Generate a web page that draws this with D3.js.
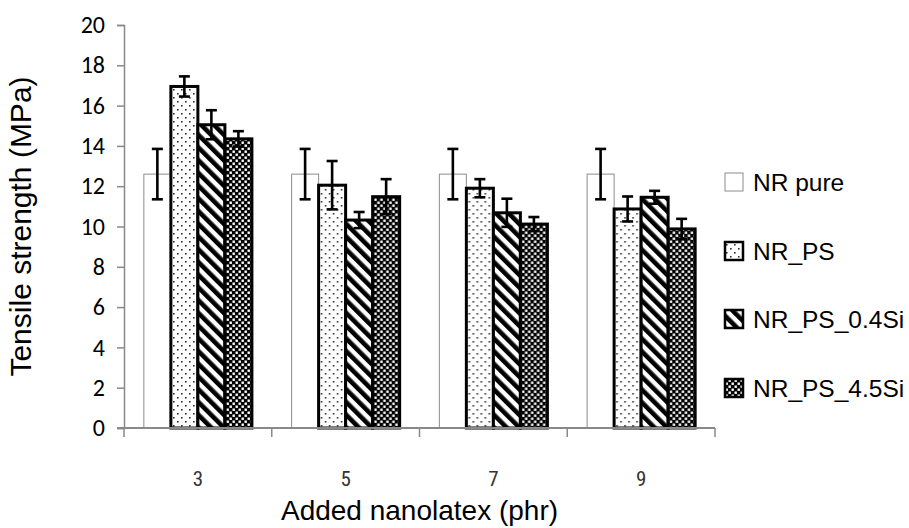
<!DOCTYPE html>
<html>
<head>
<meta charset="utf-8">
<script src="https://cdn.jsdelivr.net/npm/d3@7"></script>
<style>
  html, body { margin: 0; padding: 0; background: #fff; }
  svg { display: block; }
</style>
</head>
<body>
<svg id="chart" width="909" height="528"></svg>
<script>
// Tensile strength of NR composites at different nanolatex loadings
const categories = ["3", "5", "7", "9"];
const seriesNames = ["NR pure", "NR_PS", "NR_PS_0.4Si", "NR_PS_4.5Si"];
const nrPure      = [12.6, 12.6, 12.6, 12.6];
const nrPureErr   = [1.25, 1.25, 1.25, 1.25];
const nrPs        = [16.95, 12.05, 11.9, 10.87];
const nrPsErr     = [0.5, 1.2, 0.45, 0.62];
const nrPs04      = [15.05, 10.32, 10.68, 11.45];
const nrPs04Err   = [0.72, 0.4, 0.7, 0.32];
const nrPs45      = [14.35, 11.48, 10.12, 9.88];
const nrPs45Err   = [0.38, 0.87, 0.35, 0.5];
const yTicks      = [0, 2, 4, 6, 8, 10, 12, 14, 16, 18, 20];

const values = [nrPure, nrPs, nrPs04, nrPs45];
const errors = [nrPureErr, nrPsErr, nrPs04Err, nrPs45Err];

const svg = d3.select("#chart");
const defs = svg.append("defs");

// Fill patterns
const pDots = defs.append("pattern").attr("id", "pat-dots")
  .attr("patternUnits", "userSpaceOnUse").attr("width", 8).attr("height", 8);
pDots.append("rect").attr("width", 8).attr("height", 8).attr("fill", "#fff");
pDots.append("rect").attr("x", 1).attr("y", 1).attr("width", 1.6).attr("height", 1.6).attr("fill", "#333");
pDots.append("rect").attr("x", 5).attr("y", 5).attr("width", 1.6).attr("height", 1.6).attr("fill", "#333");

const pStripe = defs.append("pattern").attr("id", "pat-stripe")
  .attr("patternUnits", "userSpaceOnUse").attr("width", 9).attr("height", 9)
  .attr("patternTransform", "rotate(-45)");
pStripe.append("rect").attr("width", 9).attr("height", 9).attr("fill", "#fff");
pStripe.append("rect").attr("width", 4.6).attr("height", 9).attr("fill", "#000");

const pCheck = defs.append("pattern").attr("id", "pat-check")
  .attr("patternUnits", "userSpaceOnUse").attr("width", 6).attr("height", 6);
pCheck.append("rect").attr("width", 6).attr("height", 6).attr("fill", "#000");
pCheck.append("rect").attr("x", 0.5).attr("y", 0.5).attr("width", 2.4).attr("height", 2.4).attr("fill", "#fff");
pCheck.append("rect").attr("x", 3.5).attr("y", 3.5).attr("width", 2.4).attr("height", 2.4).attr("fill", "#fff");

const styles = [
  { fill: "#fff", stroke: "#8c8c8c", sw: 1 },
  { fill: "url(#pat-dots)", stroke: "#000", sw: 3 },
  { fill: "url(#pat-stripe)", stroke: "#000", sw: 3 },
  { fill: "url(#pat-check)", stroke: "#000", sw: 3 }
];

const plot = { left: 124, right: 715, top: 25, bottom: 428 };

const x0 = d3.scaleBand().domain(categories).range([plot.left, plot.right]).padding(0);
const x1 = d3.scaleBand().domain(d3.range(seriesNames.length))
  .range([0, x0.bandwidth()]).paddingInner(0).paddingOuter(0.735);
const y = d3.scaleLinear().domain([0, 20]).range([plot.bottom, plot.top]);

const axisColor = "#898989";

// Y axis
const yAxis = svg.append("g").attr("transform", `translate(${plot.left},0)`)
  .call(d3.axisLeft(y).tickValues(yTicks).tickSize(7).tickPadding(12).tickFormat(d3.format("d")));
yAxis.select(".domain").attr("stroke", axisColor).attr("stroke-width", 1.5);
yAxis.selectAll(".tick line").attr("stroke", axisColor).attr("stroke-width", 1.5);
yAxis.selectAll(".tick text").attr("fill", "#000")
  .style("font-family", "Carlito, Lato, 'Open Sans', sans-serif").style("font-size", "24px");

// Bars
const groups = svg.append("g").selectAll("g")
  .data(categories).join("g")
  .attr("transform", d => `translate(${x0(d)},0)`);

seriesNames.forEach((name, si) => {
  groups.append("rect")
    .attr("x", x1(si))
    .attr("y", (d, ci) => y(values[si][ci]))
    .attr("width", x1.bandwidth())
    .attr("height", (d, ci) => y(0) - y(values[si][ci]))
    .attr("fill", styles[si].fill)
    .attr("stroke", styles[si].stroke)
    .attr("stroke-width", styles[si].sw);
});

// Error bars
seriesNames.forEach((name, si) => {
  const cx = x1(si) + x1.bandwidth() / 2;
  const eg = groups.append("g").attr("stroke", "#000").attr("stroke-width", 2.6);
  eg.append("line")
    .attr("x1", cx).attr("x2", cx)
    .attr("y1", (d, ci) => y(values[si][ci] + errors[si][ci]))
    .attr("y2", (d, ci) => y(values[si][ci] - errors[si][ci]));
  [1, -1].forEach(s => {
    eg.append("line")
      .attr("x1", cx - 5.5).attr("x2", cx + 5.5)
      .attr("y1", (d, ci) => y(values[si][ci] + s * errors[si][ci]))
      .attr("y2", (d, ci) => y(values[si][ci] + s * errors[si][ci]));
  });
});

// X axis with tick marks on category boundaries
const xAxisG = svg.append("g").attr("transform", `translate(0,${plot.bottom})`);
xAxisG.append("line").attr("x1", plot.left - 7).attr("x2", plot.right)
  .attr("stroke", axisColor).attr("stroke-width", 2);
const boundaries = categories.map(c => x0(c)).concat([plot.right]);
xAxisG.selectAll("line.tk").data(boundaries).join("line").attr("class", "tk")
  .attr("x1", d => d).attr("x2", d => d).attr("y1", 0).attr("y2", 9)
  .attr("stroke", axisColor).attr("stroke-width", 1.5);
xAxisG.selectAll("text").data(categories).join("text")
  .attr("x", d => x0(d) + x0.bandwidth() / 2)
  .attr("y", 58)
  .attr("text-anchor", "middle")
  .style("font-family", "'Liberation Sans Narrow', 'Roboto Condensed', 'DejaVu Sans Condensed', sans-serif")
  .style("font-size", "21px")
  .attr("fill", "#333")
  .text(d => d);

// Axis titles
svg.append("text")
  .attr("transform", `translate(31,${(plot.top + plot.bottom) / 2}) rotate(-90)`)
  .attr("text-anchor", "middle")
  .style("font-family", "'Liberation Sans', Arial, sans-serif")
  .style("font-size", "30px")
  .text("Tensile strength (MPa)");

svg.append("text")
  .attr("x", (plot.left + plot.right) / 2)
  .attr("y", 520)
  .attr("text-anchor", "middle")
  .style("font-family", "'Liberation Sans', Arial, sans-serif")
  .style("font-size", "28px")
  .text("Added nanolatex (phr)");

// Legend
const legendRows = [182, 251, 319, 388];
const legend = svg.append("g");
seriesNames.forEach((name, si) => {
  const row = legend.append("g").attr("transform", `translate(725,${legendRows[si]})`);
  row.append("rect").attr("x", 0).attr("y", -9).attr("width", 18).attr("height", 18)
    .attr("fill", styles[si].fill)
    .attr("stroke", si === 0 ? "#8c8c8c" : "#000")
    .attr("stroke-width", si === 0 ? 1 : 2.5);
  row.append("text").attr("x", 28).attr("y", 9)
    .style("font-family", "'Liberation Sans', Arial, sans-serif")
    .style("font-size", "24.5px")
    .text(name);
});
</script>
</body>
</html>
